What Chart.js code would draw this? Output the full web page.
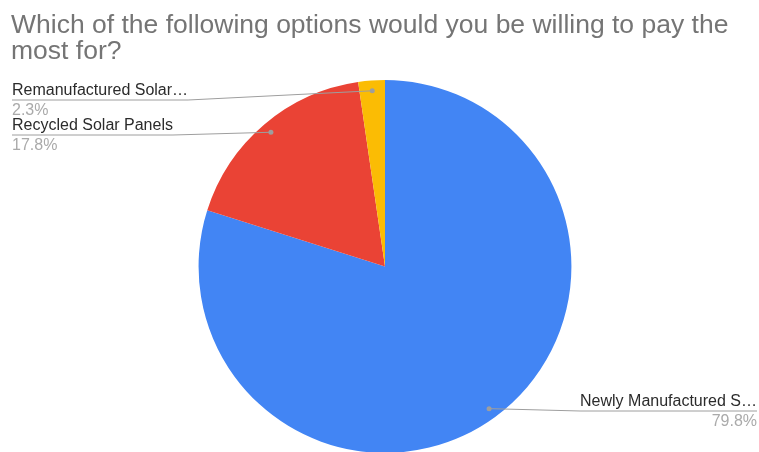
<!DOCTYPE html>
<html>
<head>
<meta charset="utf-8">
<script src="https://cdn.jsdelivr.net/npm/chart.js@4"></script>
<style>
  html, body { margin: 0; padding: 0; background: #fff; }
  #wrap { width: 759px; height: 452px; }
</style>
</head>
<body>
<div id="wrap"><canvas id="myChart"></canvas></div>
<script>
const titleLines = ['Which of the following options would you be willing to pay the', 'most for?'];
const categories = ['Newly Manufactured S\u2026', 'Recycled Solar Panels', 'Remanufactured Solar\u2026'];
const percents = [79.8, 17.8, 2.3];
const colors = ['#4285F4', '#EA4335', '#FBBC04'];

// where each label sits: side and text baseline
const labelPos = [
  { side: 'right', y: 406 },
  { side: 'left', y: 130 },
  { side: 'left', y: 95 }
];

const ctx = document.getElementById('myChart').getContext('2d');

const leaderLabels = {
  id: 'leaderLabels',
  afterDraw(chart) {
    const c = chart.ctx;
    const arcs = chart.getDatasetMeta(0).data;
    c.save();
    arcs.forEach((arc, i) => {
      const mid = (arc.startAngle + arc.endAngle) / 2;
      const r = arc.outerRadius * 0.945;
      const px = arc.x + Math.cos(mid) * r;
      const py = arc.y + Math.sin(mid) * r;
      const pos = labelPos[i];
      c.font = '16px "Liberation Sans", Arial, sans-serif';
      const w = c.measureText(categories[i]).width;
      const lineY = pos.y + 5;
      c.strokeStyle = '#9e9e9e';
      c.lineWidth = 1;
      c.beginPath();
      if (pos.side === 'left') {
        c.moveTo(12, lineY);
        c.lineTo(12 + w, lineY);
        c.lineTo(px, py);
      } else {
        c.moveTo(757, lineY);
        c.lineTo(757 - w, lineY);
        c.lineTo(px, py);
      }
      c.stroke();
      c.fillStyle = '#9e9e9e';
      c.beginPath();
      c.arc(px, py, 2.5, 0, Math.PI * 2);
      c.fill();

      c.textBaseline = 'alphabetic';
      c.textAlign = pos.side === 'left' ? 'left' : 'right';
      const tx = pos.side === 'left' ? 12 : 757;
      c.fillStyle = '#2b2b2b';
      c.fillText(categories[i], tx, pos.y);
      c.fillStyle = '#aaaaaa';
      c.fillText(percents[i].toFixed(1) + '%', tx, pos.y + 19.5);
    });
    c.restore();
  }
};

new Chart(ctx, {
  type: 'pie',
  data: {
    labels: categories,
    datasets: [{
      data: percents,
      backgroundColor: colors,
      borderWidth: 0
    }]
  },
  options: {
    responsive: true,
    maintainAspectRatio: false,
    animation: false,
    radius: '100.5%',
    layout: { padding: { left: 11, right: 0, top: 0, bottom: 0 } },
    plugins: {
      legend: { display: false },
      tooltip: { enabled: false },
      title: {
        display: true,
        text: titleLines,
        align: 'start',
        color: '#757575',
        font: { family: '"Liberation Sans", Arial, sans-serif', size: 26.5, weight: 'normal', lineHeight: '25.5px' },
        padding: { top: 13, bottom: 17 }
      }
    }
  },
  plugins: [leaderLabels]
});
</script>
</body>
</html>
